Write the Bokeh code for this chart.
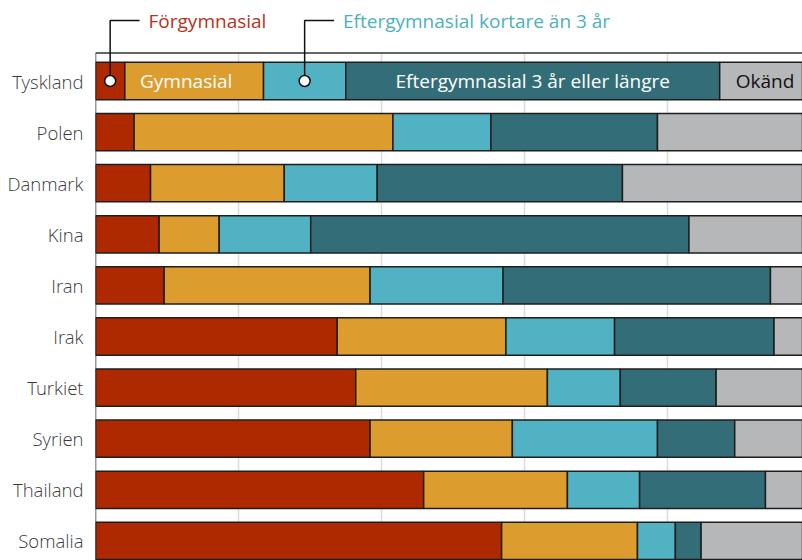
from bokeh.plotting import figure
from bokeh.models import ColumnDataSource, Range1d, FixedTicker
from bokeh.core.properties import value
from bokeh.embed import file_html
from bokeh.resources import INLINE

countries = ["Tyskland", "Polen", "Danmark", "Kina", "Iran",
             "Irak", "Turkiet", "Syrien", "Thailand", "Somalia"]
categories = ["Förgymnasial", "Gymnasial", "Eftergymnasial kortare än 3 år",
              "Eftergymnasial 3 år eller längre", "Okänd"]

forgym = [4.1, 5.4, 7.7, 8.9, 9.6, 33.8, 36.4, 38.4, 45.9, 56.8]
gym    = [19.4, 36.2, 18.7, 8.4, 28.8, 23.6, 26.8, 19.9, 20.1, 19.0]
kort   = [11.5, 13.7, 13.0, 12.8, 18.6, 15.2, 10.2, 20.3, 10.1, 5.3]
lang   = [52.3, 23.3, 34.3, 52.9, 37.4, 22.3, 13.4, 10.8, 17.6, 3.6]
okand  = [12.7, 21.4, 26.3, 17.0, 5.6, 5.1, 13.2, 10.6, 6.3, 15.3]

grid_ticks = [20, 40, 60, 80]

colors = ["#AE2900", "#DD9D2E", "#50B2C2", "#336E78", "#B6B7B9"]

FONT = "Open Sans"
W, H = 802, 560
LEFT = 95
PX_X = 7.15    # pixels per percent
PX_Y = 51.1    # pixels per row
x_end = (W - LEFT) / PX_X
y_top = -80.5 / PX_Y
y_bottom = y_top + H / PX_Y

ypos = list(range(len(countries)))
src = ColumnDataSource(dict(y=ypos, f=forgym, g=gym, k=kort, l=lang, o=okand))

p = figure(width=W, height=H, x_range=Range1d(0, x_end),
           y_range=Range1d(y_bottom, y_top), x_axis_location=None,
           output_backend="svg", toolbar_location=None,
           min_border_left=LEFT, min_border_right=0, min_border_top=0,
           min_border_bottom=0, outline_line_color=None)
p.xgrid.visible = False
p.ygrid.visible = False

# vertical gridlines below top rule
top_rule = -0.548
p.segment(x0=grid_ticks, y0=[top_rule] * len(grid_ticks), x1=grid_ticks,
          y1=[y_bottom + 1] * len(grid_ticks), line_color="#dcdcdc", line_width=1.5)

p.hbar_stack(["f", "g", "k", "l", "o"], y="y", height=0.73, source=src,
             fill_color=colors, line_color="#1e1e1e", line_width=1.5)

# frame lines (top and left)
p.segment(x0=[0, 0], y0=[top_rule, top_rule], x1=[0, 100], y1=[y_bottom + 1, top_rule],
          line_color="#333333", line_width=1.5)

# y axis labels
ax = p.yaxis[0]
ax.ticker = FixedTicker(ticks=ypos)
ax.major_label_overrides = {i: c for i, c in enumerate(countries)}
ax.axis_line_color = None
ax.major_tick_line_color = None
ax.minor_tick_line_color = None
ax.major_tick_out = 0
ax.major_tick_in = 0
ax.minor_tick_out = 0
ax.major_label_standoff = 12
ax.major_label_text_font = "Open Sans Light"
ax.major_label_text_font_size = "18.5px"
ax.major_label_text_color = "#3a3a3a"

# in-bar labels for first row
c1 = forgym[0]
c2 = c1 + gym[0]
c3 = c2 + kort[0]
c4 = c3 + lang[0]
c5 = c4 + okand[0]
p.text(x=[c1 + gym[0] / 2 - 8 / PX_X, (c3 + c4) / 2], y=[0, 0],
       text=[categories[1], categories[3]], text_color="white",
       text_font=value(FONT), text_font_size="19px",
       text_align="center", text_baseline="middle")
p.text(x=[(c4 + c5) / 2], y=[0], text=[categories[4]], text_color="#111111",
       text_font=value(FONT), text_font_size="19px",
       text_align="center", text_baseline="middle")

# leader annotations
y_lead = (20 - 80.5) / PX_Y
cx = [c1 / 2, (c2 + c3) / 2]
hx = [x + 29.4 / PX_X for x in cx]
p.multi_line(xs=[[cx[0], cx[0], hx[0]], [cx[1], cx[1], hx[1]]],
             ys=[[0, y_lead, y_lead], [0, y_lead, y_lead]],
             line_color="#111111", line_width=1.5)
p.scatter(x=cx, y=[0, 0], size=11, fill_color="white",
          line_color="#111111", line_width=1.5)
p.text(x=hx, y=[y_lead, y_lead], x_offset=9,
       text=[categories[0], categories[2]],
       text_color=["#B8321A", "#4DB0C0"],
       text_font=value(FONT), text_font_size="19px",
       text_align="left", text_baseline="middle")

open("out.html", "w").write(file_html(p, INLINE))
